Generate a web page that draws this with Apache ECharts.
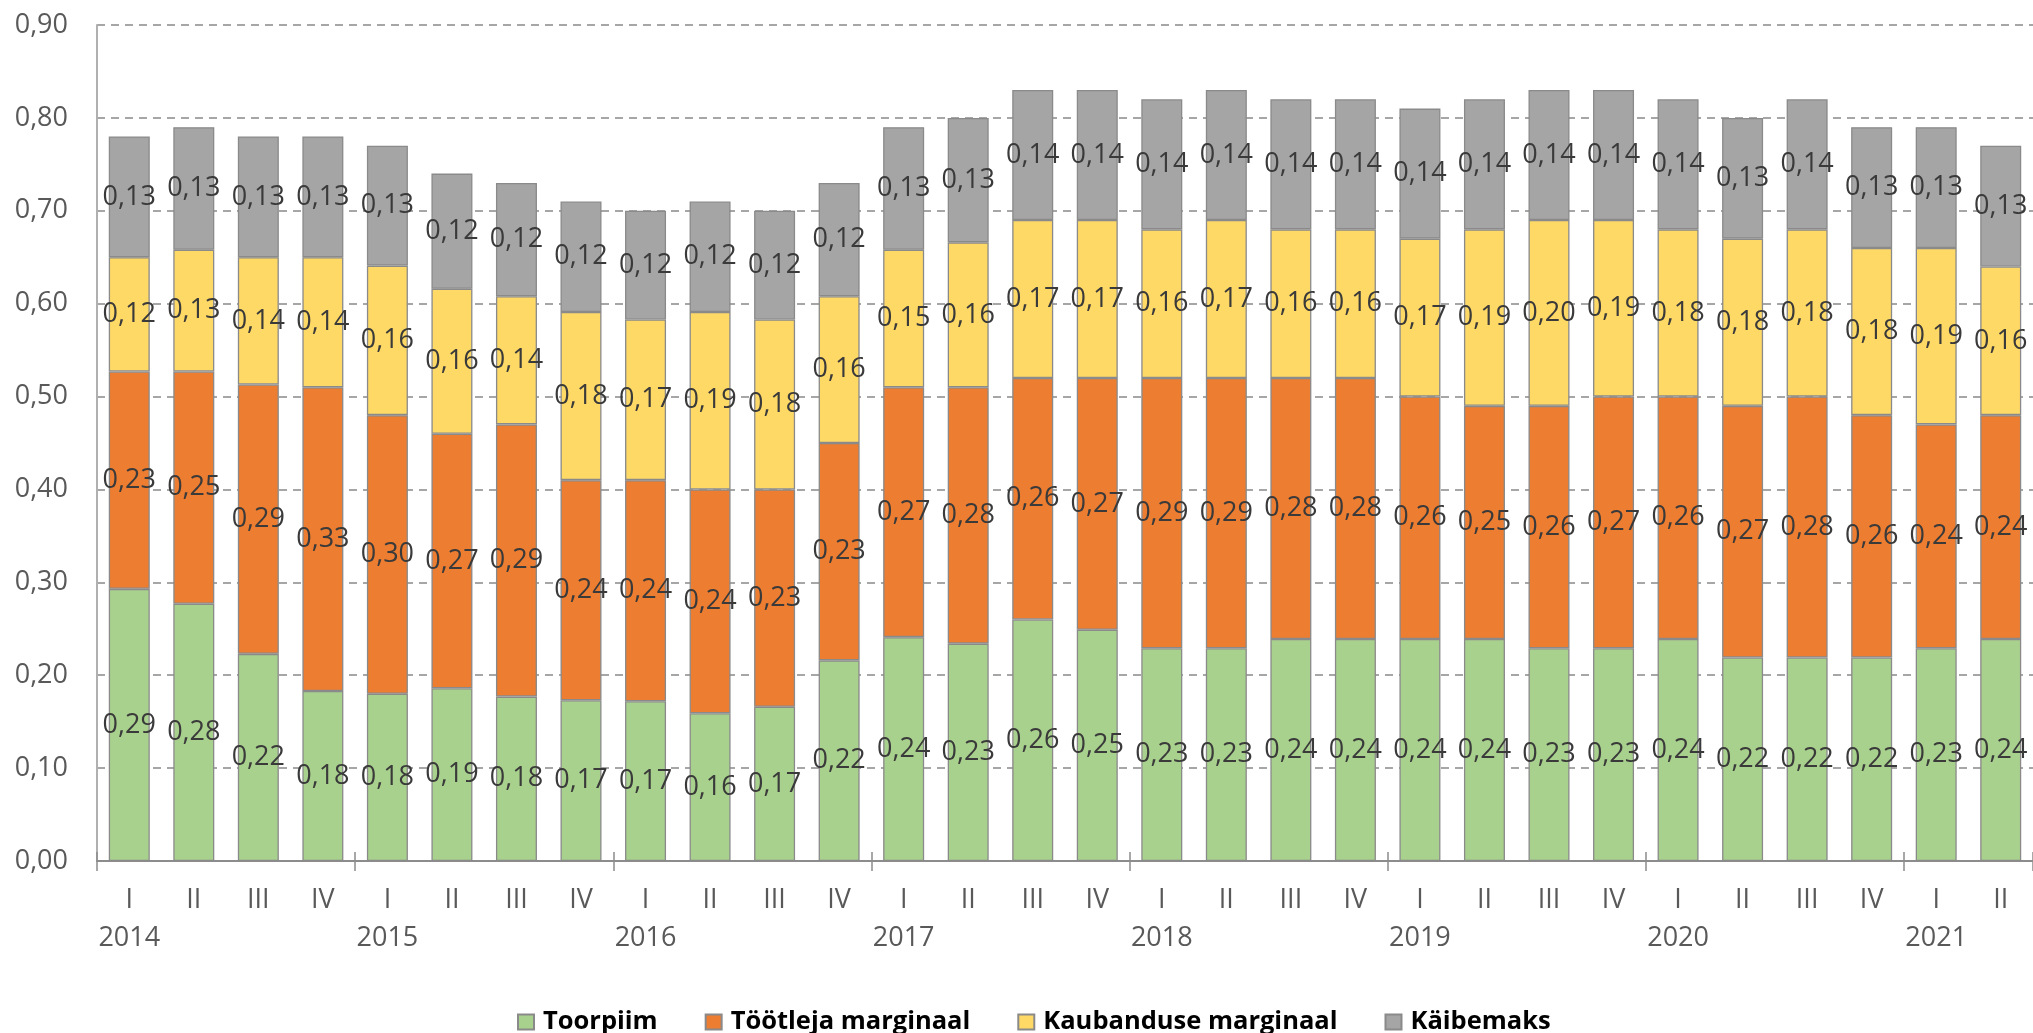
<!DOCTYPE html>
<html>
<head>
<meta charset="utf-8">
<style>
  html, body { margin: 0; padding: 0; background: #fff; }
  #chart { width: 2033px; height: 1033px; }
</style>
<script src="https://cdn.jsdelivr.net/npm/echarts@6/dist/echarts.min.js"></script>
</head>
<body>
<div id="chart"></div>
<script>
// quarters 2014 I ... 2021 II
const years = ['2014', '2015', '2016', '2017', '2018', '2019', '2020', '2021'];
const quarterNames = ['I', 'II', 'III', 'IV'];
const categories = [];
for (let i = 0; i < 30; i++) {
  categories.push(years[Math.floor(i / 4)] + ' ' + quarterNames[i % 4]);
}

const toorpiim = [0.293, 0.277, 0.223, 0.183, 0.180, 0.186, 0.177, 0.173, 0.172, 0.159,
  0.166, 0.216, 0.241, 0.234, 0.260, 0.249, 0.229, 0.229, 0.239, 0.239,
  0.239, 0.239, 0.229, 0.229, 0.239, 0.219, 0.219, 0.219, 0.229, 0.239];
const tootleja = [0.234, 0.250, 0.290, 0.327, 0.300, 0.274, 0.293, 0.237, 0.238, 0.241,
  0.234, 0.234, 0.269, 0.276, 0.260, 0.271, 0.291, 0.291, 0.281, 0.281,
  0.261, 0.251, 0.261, 0.271, 0.261, 0.271, 0.281, 0.261, 0.241, 0.241];
const kaubandus = [0.123, 0.131, 0.137, 0.140, 0.161, 0.156, 0.138, 0.181, 0.173, 0.191,
  0.183, 0.158, 0.148, 0.156, 0.170, 0.170, 0.160, 0.170, 0.160, 0.160,
  0.170, 0.190, 0.200, 0.190, 0.180, 0.180, 0.180, 0.180, 0.190, 0.160];
const kaibemaks = [0.130, 0.132, 0.130, 0.130, 0.129, 0.124, 0.122, 0.119, 0.117, 0.119,
  0.117, 0.122, 0.132, 0.134, 0.140, 0.140, 0.140, 0.140, 0.140, 0.140,
  0.140, 0.140, 0.140, 0.140, 0.140, 0.130, 0.140, 0.130, 0.130, 0.130];

const font = 'Open Sans';
const fmt = v => v.toFixed(2).replace('.', ',');

function makeSeries(name, data, color) {
  return {
    name: name,
    type: 'bar',
    stack: 'total',
    barWidth: 41,
    data: data,
    itemStyle: {
      color: color,
      borderColor: '#8a8a8a',
      borderWidth: 1.3,
    },
    label: {
      show: true,
      position: 'inside',
      formatter: p => fmt(p.value),
      color: '#3a3a3a',
      fontFamily: font,
      fontSize: 27,
    },
  };
}

const chart = echarts.init(document.getElementById('chart'));
chart.setOption({
  animation: false,
  grid: {
    left: 97,
    right: -3,
    top: 25,
    bottom: 172,
  },
  legend: {
    left: 512,
    top: 1003,
    itemWidth: 16,
    itemHeight: 15,
    itemGap: 47,
    icon: 'rect',
    textStyle: {
      fontFamily: font,
      fontSize: 25.5,
      fontWeight: 'bold',
      color: '#000',
      padding: [0, 0, 0, 4],
      lineHeight: 28,
    },
    data: ['Toorpiim', 'Töötleja marginaal', 'Kaubanduse marginaal', 'Käibemaks'],
  },
  xAxis: [{
    type: 'category',
    data: categories,
    axisLine: { lineStyle: { color: '#8c8c8c', width: 2 } },
    axisTick: {
      show: true,
      length: 10,
      interval: i => i % 4 === 0,
      lineStyle: { color: '#8c8c8c', width: 1.5 },
    },
    axisLabel: {
      interval: 0,
      margin: 20,
      fontFamily: font,
      fontSize: 27,
      lineHeight: 38,
      color: '#595959',
      formatter: (value, index) => {
        const q = value.split(' ')[1];
        return index % 4 === 0 ? q + '\n' + value.split(' ')[0] : q;
      },
    },
  }, {
    type: 'category',
    data: categories,
    position: 'bottom',
    axisLine: { show: false },
    axisLabel: { show: false },
    axisTick: {
      show: true,
      inside: true,
      length: 9,
      interval: i => i % 4 === 0,
      lineStyle: { color: '#8c8c8c', width: 1.5 },
    },
  }],
  yAxis: {
    type: 'value',
    min: 0,
    max: 0.9,
    interval: 0.1,
    axisLine: { show: true, lineStyle: { color: '#b0b0b0', width: 2 } },
    axisTick: { show: false },
    axisLabel: {
      margin: 29,
      fontFamily: font,
      fontSize: 27,
      color: '#595959',
      formatter: v => fmt(v),
    },
    splitLine: {
      lineStyle: { color: '#a6a6a6', width: 2, type: [8, 6] },
    },
  },
  series: [
    makeSeries('Toorpiim', toorpiim, '#A9D18E'),
    makeSeries('Töötleja marginaal', tootleja, '#ED7D31'),
    makeSeries('Kaubanduse marginaal', kaubandus, '#FFD966'),
    makeSeries('Käibemaks', kaibemaks, '#A5A5A5'),
  ],
});
</script>
</body>
</html>
